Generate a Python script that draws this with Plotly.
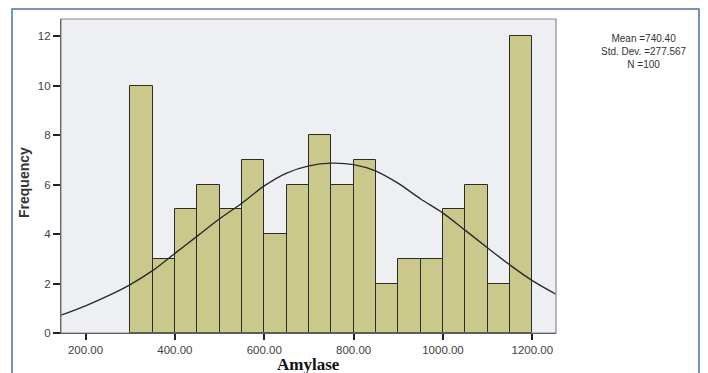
import plotly.graph_objects as go

# Histogram bins (lower edges, width 50) and counts
bin_lower = [300, 350, 400, 450, 500, 550, 600, 650, 700, 750,
             800, 850, 900, 950, 1000, 1050, 1100, 1150]
bin_width = 50
counts = [10, 3, 5, 6, 5, 7, 4, 6, 8, 6, 7, 2, 3, 3, 5, 6, 2, 12]

# Normal curve
curve_x = [145, 200, 250, 300, 350, 400, 450, 500, 550, 600, 650, 700,
           750, 800, 850, 900, 950, 1000, 1050, 1100, 1150, 1200, 1253]
curve_y = [0.72, 1.1, 1.5, 1.96, 2.52, 3.22, 3.92, 4.62, 5.25, 5.95, 6.47, 6.76,
           6.87, 6.81, 6.55, 6.05, 5.42, 4.85, 4.15, 3.44, 2.75, 2.12, 1.57]

x_ticks = [200, 400, 600, 800, 1000, 1200]
x_ticktext = ["200.00", "400.00", "600.00", "800.00", "1000.00", "1200.00"]
y_ticks = [0, 2, 4, 6, 8, 10, 12]

stats_lines = ["Mean =740.40", "Std. Dev. =277.567", "N =100"]

W, H = 708, 373
L, R, T, B = 61, 152, 19, 40
pw, ph = W - L - R, H - T - B

def px_x(p):
    return (p - L) / pw

def px_y(p):
    return (H - B - p) / ph

centers = [b + bin_width / 2 for b in bin_lower]

fig = go.Figure()
fig.add_trace(go.Bar(
    x=centers, y=counts, width=[bin_width] * len(counts),
    marker=dict(color="#CBC88C", line=dict(color="#2b2b2b", width=1)),
    showlegend=False, hoverinfo="x+y",
))
fig.add_trace(go.Scatter(
    x=curve_x, y=curve_y, mode="lines",
    line=dict(color="#2a2a2a", width=1.4, shape="spline", smoothing=1.0),
    showlegend=False, cliponaxis=True,
))

tickfont = dict(family="Liberation Sans, Arial", size=11.5, color="#404040")

fig.update_layout(
    width=W, height=H,
    margin=dict(l=L, r=R, t=T, b=B, pad=0),
    paper_bgcolor="white",
    plot_bgcolor="#EDEFF2",
    bargap=0,
    xaxis=dict(
        range=[145, 1253], tickvals=x_ticks, ticktext=x_ticktext,
        ticks="outside", ticklen=6, tickwidth=1.5, tickcolor="#222",
        showgrid=False, zeroline=False, showline=True, linecolor="#333",
        linewidth=1.2, tickfont=tickfont,
    ),
    yaxis=dict(
        range=[0, 12.7], tickvals=y_ticks,
        ticks="outside", ticklen=7, tickwidth=1.5, tickcolor="#222",
        showgrid=False, zeroline=False, showline=True, linecolor="#333",
        linewidth=1.2, tickfont=tickfont,
    ),
    shapes=[
        # plot frame (top/right grey)
        dict(type="rect", xref="paper", yref="paper", x0=0, x1=1, y0=0, y1=1,
             line=dict(color="#8a8a8a", width=1.2), layer="above"),
        # outer blue frame
        dict(type="rect", xref="paper", yref="paper",
             x0=px_x(12), x1=px_x(699), y0=px_y(395), y1=px_y(9),
             line=dict(color="#4A6DB4", width=1.5), layer="above"),
    ],
    annotations=[
        dict(text="<b>Frequency</b>", textangle=-90, xref="paper", yref="paper",
             x=px_x(24), y=px_y(183), xanchor="center", yanchor="middle",
             showarrow=False,
             font=dict(family="Liberation Sans, Arial", size=14, color="#333")),
        dict(text="<b>Amylase</b>", xref="paper", yref="paper",
             x=px_x(308), y=px_y(353), xanchor="center", yanchor="top",
             showarrow=False,
             font=dict(family="Liberation Serif, Times New Roman", size=17, color="#111")),
        dict(text="<br>".join(stats_lines), xref="paper", yref="paper",
             x=px_x(644), y=px_y(52), xanchor="center", yanchor="middle",
             align="center", borderpad=0, showarrow=False,
             font=dict(family="Liberation Sans, Arial", size=10, color="#333")),
    ],
)

fig.write_html("out.html", config={"displayModeBar": False},
               post_script="document.body.style.margin='0px';document.body.style.overflow='hidden';")
